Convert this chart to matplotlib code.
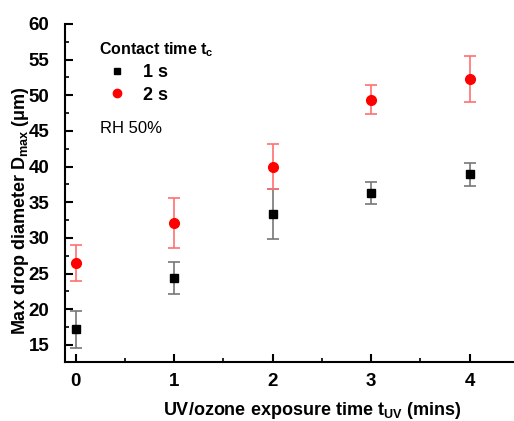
import matplotlib
matplotlib.use("Agg")
from matplotlib import pyplot as plt
from matplotlib.lines import Line2D
from matplotlib.ticker import MultipleLocator

plt.rcParams['font.family'] = ['Liberation Sans', 'DejaVu Sans']

# UV/ozone exposure time (mins)
t_uv = [0, 1, 2, 3, 4]

# contact time 1 s
d_1s = [17.2, 24.4, 33.3, 36.3, 38.9]
err_1s = [2.6, 2.2, 3.5, 1.6, 1.6]

# contact time 2 s
d_2s = [26.5, 32.1, 40.0, 49.4, 52.3]
err_2s = [2.5, 3.5, 3.2, 2.0, 3.2]

fig = plt.figure(figsize=(5.14, 4.21), dpi=100)
ax = fig.add_axes([0.126, 0.140, 0.874, 0.803])

ax.errorbar(t_uv, d_1s, yerr=err_1s, fmt='s', color='black', ms=6,
            ecolor='#777777', elinewidth=1.2, capsize=4, capthick=1.2)
ax.errorbar(t_uv, d_2s, yerr=err_2s, fmt='o', color='#ff0000', ms=7,
            ecolor='#ff7070', elinewidth=1.2, capsize=4, capthick=1.2)

ax.set_xlim(-0.11, 4.45)
ax.set_ylim(12.6, 60)
ax.xaxis.set_major_locator(MultipleLocator(1))
ax.xaxis.set_minor_locator(MultipleLocator(0.5))
ax.yaxis.set_major_locator(MultipleLocator(5))
ax.yaxis.set_minor_locator(MultipleLocator(2.5))

for s in ['top', 'right']:
    ax.spines[s].set_visible(False)
for s in ['left', 'bottom']:
    ax.spines[s].set_linewidth(1.5)

ax.tick_params(which='major', direction='in', length=6, width=1.5, labelsize=13.5)
ax.tick_params(axis='x', which='major', pad=8)
ax.tick_params(axis='y', which='major', pad=11)
ax.tick_params(which='minor', direction='in', length=3, width=1.2)
for lab in ax.get_xticklabels() + ax.get_yticklabels():
    lab.set_fontweight('bold')

ax.set_xlabel('UV/ozone exposure time t$_{\\mathregular{UV}}$ (mins)', fontsize=13, fontweight='bold')
ax.set_ylabel('Max drop diameter D$_{\\mathregular{max}}$ (\u03bcm)', fontsize=13, fontweight='bold')
ax.xaxis.set_label_coords(0.55, -0.112)
ax.yaxis.set_label_coords(-0.076, 0.447)

handles = [Line2D([], [], ls='none', marker='s', color='black', ms=5),
           Line2D([], [], ls='none', marker='o', color='#ff0000', ms=6)]
leg = ax.legend(handles, ['1 s', '2 s'], loc='upper left', bbox_to_anchor=(0.04, 1.0),
                frameon=False, title='Contact time t$_{\\mathregular{c}}$',
                prop={'size': 13, 'weight': 'bold'},
                title_fontsize=11.5, handletextpad=0.45, labelspacing=0.3,
                handlelength=2.0)
leg._legend_box.align = 'left'
leg.get_title().set_fontweight('bold')

ax.text(0.078, 0.69, 'RH 50%', transform=ax.transAxes, fontsize=12, va='center')

fig.savefig('out.png', dpi=100)
